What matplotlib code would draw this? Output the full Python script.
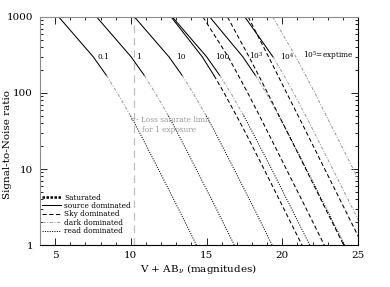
import matplotlib
matplotlib.use('Agg')
import matplotlib.pyplot as plt
from matplotlib.lines import Line2D
from matplotlib.ticker import LogLocator, MultipleLocator, NullFormatter

plt.rcParams['font.family'] = ['DejaVu Serif']
plt.rcParams['mathtext.fontset'] = 'dejavuserif'

sn = [1000, 300, 170, 100, 50, 30, 10, 3, 1]

# V + AB_nu (mag) of each curve at those S/N levels
mag_t01 = [5.24, 7.51, 8.39, 9.11, 9.98, 10.58, 11.81, 13.14, 14.33]
mag_t1 = [7.74, 10.01, 10.89, 11.61, 12.48, 13.08, 14.31, 15.64, 16.83]
mag_t10 = [10.24, 12.51, 13.39, 14.11, 14.98, 15.58, 16.81, 18.14, 19.33]
mag_t100_lo = [12.74, 15.00, 15.87, 16.60, 17.46, 18.05, 19.29, 20.61, 21.81]
mag_t100_hi = [12.66, 14.71, 15.49, 16.16, 16.98, 17.57, 18.79, 20.10, 21.30]
mag_t1e3_lo = [15.21, 17.39, 18.23, 18.93, 19.77, 20.36, 21.59, 22.91, 24.11]
mag_t1e3_hi = [14.76, 16.42, 17.10, 17.72, 18.50, 19.06, 20.26, 21.58, 22.77]
mag_t1e4_lo = [17.53, 19.38, 20.11, 20.75, 21.55, 22.12, 23.33, 24.65, 25.84]
mag_t1e4_hi = [16.38, 17.80, 18.44, 19.03, 19.79, 20.35, 21.55, 22.85, 24.05]
mag_t1e5_lo = [19.37, 20.89, 21.55, 22.15, 22.91, 23.47, 24.68, 25.98, 27.18]
mag_t1e5_hi = [17.75, 19.09, 19.71, 20.29, 21.05, 21.61, 22.80, 24.11, 25.30]

# exposure time labels
label_text = ['0.1', '1', '10', '100', '10$^3$', '10$^4$', '10$^5$=exptime']
label_mag = [7.78, 10.36, 13.0, 15.53, 17.78, 19.83, 21.36]
label_sn = 300

sat_limit = 10.2

styles = {
    'sat': dict(color='k', lw=1.8, ls=(0, (1, 0.6))),
    'src': dict(color='k', lw=0.75, ls='-'),
    'sky': dict(color='k', lw=0.75, ls=(0, (4, 2.5))),
    'dark': dict(color='0.62', lw=0.75, ls=(0, (3, 1.5, 1, 1.5))),
    'read': dict(color='k', lw=0.75, ls=(0, (1, 1.3))),
}

# which noise term dominates along each curve (index ranges into sn)
short = [(0, 2, 'src'), (2, 4, 'dark'), (4, 8, 'read')]
curves = [
    (mag_t01, short),
    (mag_t1, short),
    (mag_t10, short),
    (mag_t100_lo, short),
    (mag_t100_hi, [(0, 2, 'src'), (2, 8, 'sky')]),
    (mag_t1e3_lo, short),
    (mag_t1e3_hi, [(0, 8, 'sky')]),
    (mag_t1e4_lo, [(0, 1, 'src'), (1, 8, 'dark')]),
    (mag_t1e4_hi, [(0, 8, 'sky')]),
    (mag_t1e5_lo, [(0, 8, 'dark')]),
    (mag_t1e5_hi, [(0, 8, 'sky')]),
]

fig = plt.figure(figsize=(3.9, 2.87), dpi=100)
ax = fig.add_axes([0.1026, 0.1463, 0.8154, 0.7945])

ax.axvline(sat_limit, color='0.75', lw=0.9, ls=(0, (6, 4)))

for mags, segs in curves:
    for i0, i1, key in segs:
        ax.plot(mags[i0:i1 + 1], sn[i0:i1 + 1], **styles[key])

for txt, m in zip(label_text, label_mag):
    ax.text(m, label_sn, txt, fontsize=5.3, ha='left', va='center')

ax.text(9.95, 44, '<- Loss saturate limit', fontsize=5.3, color='0.6',
        ha='left', va='center')
ax.text(10.76, 32.5, 'for 1 exposure', fontsize=5.3, color='0.6',
        ha='left', va='center')

ax.set_yscale('log')
ax.set_xlim(4, 25)
ax.set_ylim(1, 1000)

ax.set_xticks([5, 10, 15, 20, 25])
ax.xaxis.set_minor_locator(MultipleLocator(1))
ax.set_yticks([1, 10, 100, 1000])
ax.set_yticklabels(['1', '10', '100', '1000'])
ax.yaxis.set_minor_locator(LogLocator(base=10, subs=range(2, 10)))
ax.yaxis.set_minor_formatter(NullFormatter())

ax.tick_params(which='both', direction='in', top=True, right=True,
               labelsize=7.5, width=0.6)
ax.tick_params(which='major', length=5)
ax.tick_params(which='minor', length=2.5)
ax.tick_params(axis='x', pad=4)
ax.tick_params(axis='y', pad=5)

for side in ['left', 'top']:
    ax.spines[side].set_color('0.55')
for side in ax.spines:
    ax.spines[side].set_linewidth(0.8)

ax.set_xlabel(r'V + AB$_\nu$ (magnitudes)', fontsize=7.5, labelpad=2)
fig.text(8 / 390, 0.495, 'Signal-to-Noise ratio', fontsize=7.5,
         rotation=90, ha='center', va='center')

handles = [Line2D([], [], **styles[k]) for k in ['sat', 'src', 'sky', 'dark', 'read']]
names = ['Saturated', 'source dominated', 'Sky dominated', 'dark dominated',
         'read dominated']
ax.legend(handles, names, loc='upper left', bbox_to_anchor=(0.005, 0.225),
          frameon=False, fontsize=5.3, labelspacing=0.05, handlelength=2.6,
          handletextpad=0.5, borderpad=0, borderaxespad=0)

fig.savefig('out.png', dpi=100)
